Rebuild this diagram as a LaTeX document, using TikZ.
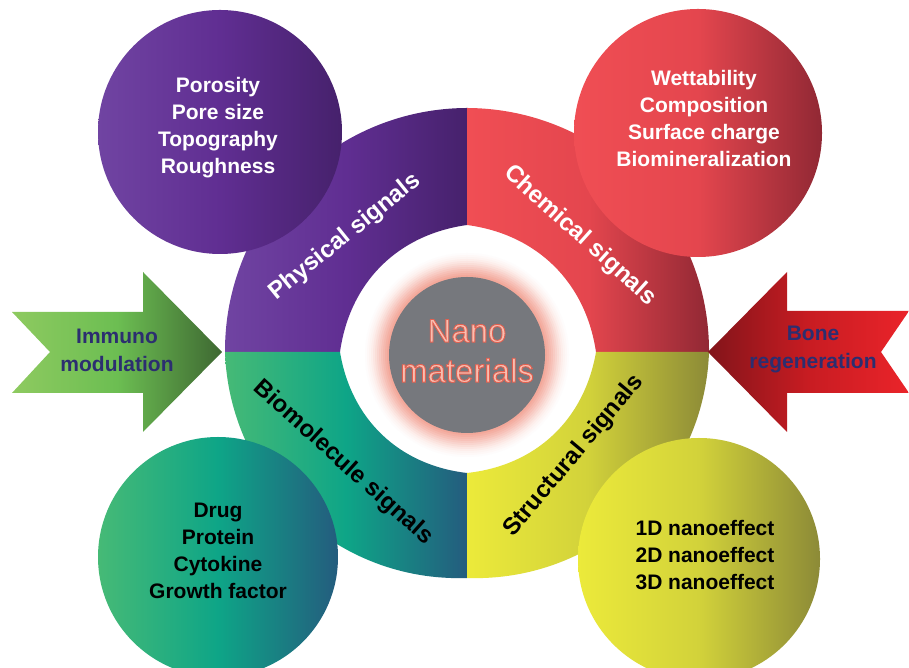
\documentclass[tikz,border=0pt]{standalone}
\usepackage{fontspec}
\setmainfont{Liberation Sans}
\definecolor{purL}{RGB}{112,68,162}
\definecolor{purM}{RGB}{96,46,146}
\definecolor{purR}{RGB}{70,33,108}
\definecolor{redL}{RGB}{240,78,84}
\definecolor{redM}{RGB}{228,70,78}
\definecolor{redR}{RGB}{145,40,52}
\definecolor{grnL}{RGB}{70,186,118}
\definecolor{grnM}{RGB}{14,165,135}
\definecolor{grnR}{RGB}{36,92,126}
\definecolor{yelL}{RGB}{236,234,58}
\definecolor{yelM}{RGB}{210,210,58}
\definecolor{yelR}{RGB}{140,138,55}
\definecolor{agrL}{RGB}{142,202,96}
\definecolor{agrM}{RGB}{108,190,82}
\definecolor{agrR}{RGB}{62,104,50}
\definecolor{aredL}{RGB}{130,20,26}
\definecolor{aredM}{RGB}{200,28,34}
\definecolor{aredR}{RGB}{234,36,42}
\definecolor{navy}{RGB}{44,46,112}
\definecolor{nanogrey}{RGB}{118,120,125}
\definecolor{glowpink}{RGB}{242,160,145}
\definecolor{nanopink}{RGB}{248,190,176}
\newcommand{\outlinetext}[1]{\special{pdf:literal direct 2 Tr 0.9 w 0.886 0.376 0.314 RG}#1\special{pdf:literal direct 0 Tr}}
\tikzset{
  bubtxt/.style={font=\fontsize{21}{27}\selectfont\bfseries, align=center},
  sigtxt/.style={font=\fontsize{24}{28}\selectfont\bfseries},
  arrtxt/.style={font=\fontsize{21}{28}\selectfont\bfseries, align=center, text=navy},
  nanotxt/.style={font=\fontsize{33}{40}\selectfont, align=center},
  bubble/.style={circle, inner sep=0pt},
}
\begin{document}
\begin{tikzpicture}[x=1pt,y=1pt]
\fill[white] (0,0) rectangle (909,668);
\useasboundingbox (0,0) rectangle (909,668);
% key points of the flower
\coordinate (OT) at (467,560);
\coordinate (OB) at (467,90);
\coordinate (OL) at (225,316);
\coordinate (OR) at (709,316);
\coordinate (IT) at (467,443);
\coordinate (IB) at (467,195);
\coordinate (IL) at (340,316);
\coordinate (IR) at (596,316);
% petals
\path[left color=purL, right color=purR, middle color=purM]
  (OT) to[bend right=45] (OL) -- (IL) to[bend left=37] (IT) -- cycle;
\path[left color=redL, right color=redR, middle color=redM]
  (OT) to[bend left=45] (OR) -- (IR) to[bend right=37] (IT) -- cycle;
\path[left color=grnL, right color=grnR, middle color=grnM]
  (OL) to[bend right=45] (OB) -- (IB) to[bend left=37] (IL) -- cycle;
\path[left color=yelL, right color=yelR, middle color=yelM]
  (OB) to[bend right=45] (OR) -- (IR) to[bend left=37] (IB) -- cycle;
% bubbles
\node[bubble, minimum size=244pt, left color=purL, right color=purR, middle color=purM] (bphys) at (220,536) {};
\node[bubble, minimum size=248pt, left color=redL, right color=redR, middle color=redM] (bchem) at (698,535) {};
\node[bubble, minimum size=240pt, left color=grnL, right color=grnR, middle color=grnM] (bbio) at (218,111) {};
\node[bubble, minimum size=242pt, left color=yelL, right color=yelR, middle color=yelM] (bstr) at (699,109) {};
\node[bubtxt, text=white] (tphys) at (218,540) {Porosity\\Pore size\\Topography\\Roughness};
\node[bubtxt, text=white] (tchem) at (704,549) {Wettability\\Composition\\Surface charge\\Biomineralization};
\node[bubtxt, text=black] (tbio) at (218,117) {Drug\\Protein\\Cytokine\\Growth factor};
\node[bubtxt, text=black] (tstr) at (705,113) {1D nanoeffect\\2D nanoeffect\\3D nanoeffect};
% arrows
\path[left color=agrL, right color=agrR, middle color=agrM]
  (12,356) -- (143,356) -- (143,396) -- (222,316) -- (143,236) -- (143,275)
  -- (12,275) -- (50,316) -- cycle;
\path[left color=aredL, right color=aredR, middle color=aredM]
  (909,357) -- (787,357) -- (787,396) -- (708,316) -- (787,236) -- (787,275)
  -- (909,275) -- (881,316) -- cycle;
\node[arrtxt] (timm) at (117,318) {Immuno\\modulation};
\node[arrtxt] (tbone) at (813,318) {Bone\\regeneration};
% signal labels
\node[sigtxt, text=white, rotate=39] (sphys) at (345,431) {Physical signals};
\node[sigtxt, text=white, rotate=-42] (schem) at (580,432) {Chemical signals};
\node[sigtxt, text=black, rotate=-42] (sbio) at (343,205) {Biomolecule signals};
\node[sigtxt, text=black, rotate=50] (sstr) at (574,212) {Structural signals};
% core
\coordinate (gc) at (467,313);
\foreach \r/\p in {102/3,100/7,98/12,96/18,94/26,92/35,90/45,88/55,86/65,84/74,82/83,80/92}
  \fill[glowpink!\p!white] (gc) circle (\r);
\node[circle, fill=nanogrey, minimum size=156pt, inner sep=0pt] (core) at (gc) {};
\node[nanotxt, text=nanopink] (nano) at (467,317) {\outlinetext{Nano}\\\outlinetext{materials}};
\end{tikzpicture}
\end{document}
